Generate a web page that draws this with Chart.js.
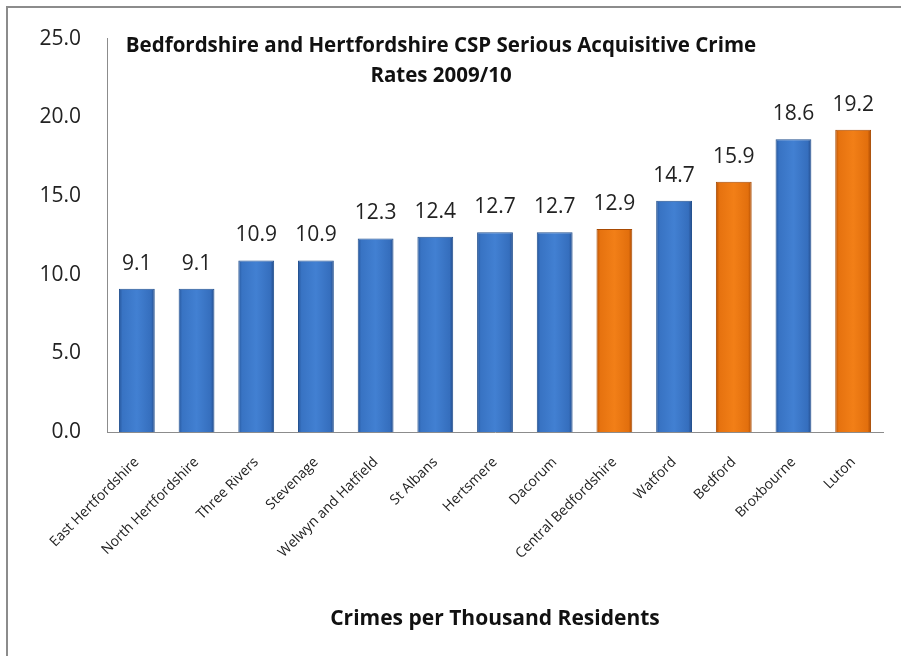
<!DOCTYPE html>
<html lang="en">
<head>
    <meta charset="UTF-8">
    <title>Serious Acquisitive Crime Rates 2009/10</title>
    <script src="https://cdn.jsdelivr.net/npm/chart.js"></script>
    <style>
        body {
            margin: 0;
            padding: 0;
            background: #fff;
        }
        .frame {
            position: absolute;
            left: 6px;
            top: 6px;
            width: 1000px;
            height: 1000px;
            border-left: 2px solid #8c8c8c;
            border-top: 2px solid #8c8c8c;
        }
        .wrap {
            position: absolute;
            left: 0;
            top: 0;
            width: 901px;
            height: 656px;
        }
    </style>
</head>
<body>
    <div class="frame"></div>
    <div class="wrap">
        <canvas id="crimeChart" width="901" height="656"></canvas>
    </div>
    <script>
        var areas = ['East Hertfordshire', 'North Hertfordshire', 'Three Rivers', 'Stevenage',
            'Welwyn and Hatfield', 'St Albans', 'Hertsmere', 'Dacorum', 'Central Bedfordshire',
            'Watford', 'Bedford', 'Broxbourne', 'Luton'];
        var rates = [9.1, 9.1, 10.9, 10.9, 12.3, 12.4, 12.7, 12.7, 12.9, 14.7, 15.9, 18.6, 19.2];
        // which county each CSP belongs to
        var county = ['Herts', 'Herts', 'Herts', 'Herts', 'Herts', 'Herts', 'Herts', 'Herts',
            'Beds', 'Herts', 'Beds', 'Herts', 'Beds'];
        var yTicks = [0, 5, 10, 15, 20, 25];

        var font = '"Open Sans", Lato, sans-serif';
        var barPct = 0.6;

        // horizontal shading so bars look rounded like Excel bevels
        function barFill(ctx) {
            var beds = county[ctx.dataIndex] === 'Beds';
            var xs = ctx.chart.scales.x;
            if (!xs || !xs.width) return beds ? '#e8730e' : '#3a72bf';
            var cx = xs.getPixelForValue(ctx.dataIndex);
            var half = xs.width / areas.length * barPct / 2;
            var g = ctx.chart.ctx.createLinearGradient(cx - half, 0, cx + half, 0);
            if (beds) {
                g.addColorStop(0, '#b95203');
                g.addColorStop(0.1, '#e6720f');
                g.addColorStop(0.5, '#f27f17');
                g.addColorStop(0.9, '#e26f0d');
                g.addColorStop(1, '#ab4a02');
            } else {
                g.addColorStop(0, '#27579c');
                g.addColorStop(0.1, '#3873c3');
                g.addColorStop(0.5, '#4280d2');
                g.addColorStop(0.9, '#356ebd');
                g.addColorStop(1, '#234a88');
            }
            return g;
        }

        // chart title sits inside the plot area
        var titlePlugin = {
            id: 'innerTitle',
            afterDraw: function(chart) {
                var c = chart.ctx;
                c.save();
                c.font = 'bold 20.5px ' + font;
                c.fillStyle = '#111';
                c.textAlign = 'center';
                c.textBaseline = 'middle';
                c.fillText('Bedfordshire and Hertfordshire CSP Serious Acquisitive Crime', 441, 46);
                c.fillText('Rates 2009/10', 441, 76);
                c.restore();
            }
        };

        // value labels above each bar
        var valuePlugin = {
            id: 'values',
            afterDatasetsDraw: function(chart) {
                var c = chart.ctx;
                var meta = chart.getDatasetMeta(0);
                c.save();
                c.font = '21px ' + font;
                c.fillStyle = '#222';
                c.textAlign = 'center';
                c.textBaseline = 'middle';
                meta.data.forEach(function(bar, i) {
                    c.fillText(rates[i].toFixed(1), bar.x, bar.y - 25);
                });
                c.restore();
            }
        };

        new Chart(document.getElementById('crimeChart'), {
            type: 'bar',
            data: {
                labels: areas,
                datasets: [{
                    data: rates,
                    backgroundColor: barFill,
                    borderColor: county.map(function(c) { return c === 'Beds' ? '#a84a02' : '#22508f'; }),
                    borderWidth: 1,
                    barPercentage: barPct,
                    categoryPercentage: 1
                }]
            },
            options: {
                responsive: false,
                animation: false,
                layout: { padding: { top: 37, right: 18, left: 0, bottom: 0 } },
                plugins: {
                    legend: { display: false },
                    tooltip: { enabled: false }
                },
                scales: {
                    y: {
                        min: 0,
                        max: 25,
                        afterBuildTicks: function(scale) {
                            scale.ticks = yTicks.map(function(v) { return { value: v }; });
                        },
                        afterFit: function(scale) { scale.width = 107; },
                        grid: { display: false, drawTicks: false },
                        border: { color: '#8c8c8c', width: 1 },
                        ticks: {
                            padding: 26,
                            color: '#222',
                            font: { family: font, size: 21 },
                            callback: function(v) { return v.toFixed(1); }
                        }
                    },
                    x: {
                        afterFit: function(scale) { scale.height = 224; },
                        grid: { display: false, drawTicks: false },
                        border: { color: '#8c8c8c', width: 1 },
                        ticks: {
                            minRotation: 45,
                            maxRotation: 45,
                            padding: 22,
                            color: '#222',
                            font: { family: font, size: 14 }
                        },
                        title: {
                            display: true,
                            text: 'Crimes per Thousand Residents',
                            color: '#111',
                            font: { family: font, size: 21, weight: 'bold' },
                            padding: { top: 0, bottom: 24 }
                        }
                    }
                }
            },
            plugins: [titlePlugin, valuePlugin]
        });
    </script>
</body>
</html>
